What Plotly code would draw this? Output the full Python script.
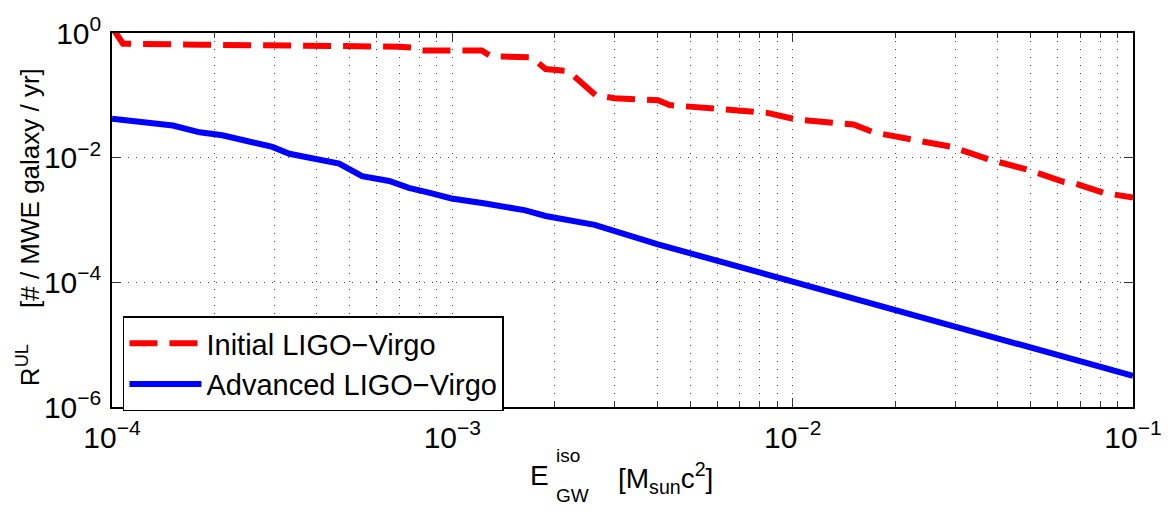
import plotly.graph_objects as go

# ---- data ----
e_initial = [1.0e-4, 1.077e-4, 1.81e-4, 3.55e-4, 5.69e-4, 6.97e-4, 7.60e-4, 7.97e-4,
             1.22e-3, 1.30e-3, 1.71e-3, 1.88e-3, 2.19e-3, 2.64e-3, 3.00e-3, 4.02e-3,
             4.35e-3, 6.02e-3, 7.37e-3, 8.43e-3, 1.03e-2, 1.33e-2, 1.51e-2, 1.73e-2,
             2.24e-2, 2.93e-2, 3.79e-2, 4.86e-2, 6.28e-2, 6.81e-2, 8.17e-2, 1.0e-1]
r_initial = [1.24, 0.673, 0.649, 0.638, 0.627, 0.604, 0.583, 0.523,
             0.523, 0.422, 0.407, 0.264, 0.246, 0.100, 0.0898, 0.0835,
             0.0698, 0.0604, 0.0562, 0.0523, 0.0407, 0.0352, 0.0340, 0.0255,
             0.0198, 0.0149, 0.0093, 0.0065, 0.00407, 0.0038, 0.00274, 0.00229]

e_advanced = [1.0e-4, 1.51e-4, 1.81e-4, 2.11e-4, 2.96e-4, 3.32e-4, 4.65e-4, 5.43e-4,
              6.52e-4, 7.45e-4, 8.53e-4, 9.95e-4, 1.25e-3, 1.64e-3, 1.88e-3, 2.62e-3,
              4.02e-3, 1.18e-2, 1.0e-1]
r_advanced = [0.0422, 0.0328, 0.0255, 0.0229, 0.0149, 0.01155, 0.00806, 0.00505,
              0.00422, 0.00328, 0.00274, 0.00221, 0.00184, 0.00143, 0.00116, 0.000835,
              0.000407, 8.05e-5, 3.16e-6]

series_names = ["Initial LIGO\u2212Virgo", "Advanced LIGO\u2212Virgo"]

x_tickvals = [1e-4, 1e-3, 1e-2, 1e-1]
x_ticktext = ["10<sup>\u22124</sup>", "10<sup>\u22123</sup>", "10<sup>\u22122</sup>", "10<sup>\u22121</sup>"]
x_minor = [m * d for d in (1e-4, 1e-3, 1e-2) for m in range(2, 10)]
y_tickvals = [1e-6, 1e-4, 1e-2, 1e0]
y_ticktext = ["10<sup>\u22126</sup>", "10<sup>\u22124</sup>", "10<sup>\u22122</sup>", "10<sup>0</sup>"]

FONT = "Liberation Sans, Arial, Helvetica, sans-serif"
TICK_SIZE = 30
GRID_DASH = "1px,7px"
GRID_COLOR = "#444"

fig = go.Figure()
fig.add_trace(go.Scatter(x=e_initial, y=r_initial, mode="lines", name=series_names[0],
                         line=dict(color="#ff0000", width=6, dash="28px,12px")))
fig.add_trace(go.Scatter(x=e_advanced, y=r_advanced, mode="lines", name=series_names[1],
                         line=dict(color="#0000ff", width=6)))

axis_common = dict(type="log", showline=True, linecolor="black", linewidth=1.5,
                   mirror="allticks", ticks="inside", ticklen=9, tickcolor="#333",
                   showgrid=True, gridcolor=GRID_COLOR, griddash=GRID_DASH, gridwidth=1,
                   zeroline=False, tickfont=dict(family=FONT, size=TICK_SIZE, color="black"))

fig.update_xaxes(range=[-4, -1], tickvals=x_tickvals, ticktext=x_ticktext, ticklabelstandoff=3,
                 minor=dict(tickvals=x_minor, ticks="inside", ticklen=5, tickcolor="#333",
                            showgrid=True, gridcolor=GRID_COLOR, griddash=GRID_DASH, gridwidth=1),
                 **axis_common)
fig.update_yaxes(range=[-6, 0], tickvals=y_tickvals, ticktext=y_ticktext, ticklabelstandoff=3,
                 **axis_common)

# axis titles as text annotations (stacked super/subscript like the original)
def px_x(px):
    return (px - 112) / 1025.0

def px_y(py):
    return (407 - py) / 384.0

ann = [
    dict(text="E", x=px_x(553), y=px_y(477), xanchor="right", yanchor="middle", font=dict(size=28)),
    dict(text="iso", x=px_x(556), y=px_y(457), xanchor="left", yanchor="middle", font=dict(size=19)),
    dict(text="GW", x=px_x(556), y=px_y(498), xanchor="left", yanchor="middle", font=dict(size=19)),
    dict(text="[M<sub>sun</sub>c<sup>2</sup>]", x=px_x(618), y=px_y(480), xanchor="left",
         yanchor="middle", font=dict(size=28)),
    dict(text="R<sup>UL</sup>\u00a0\u00a0\u00a0\u00a0\u00a0[# / MWE galaxy / yr]", x=px_x(29), y=px_y(222),
         xanchor="center", yanchor="middle", textangle=-90, font=dict(size=26)),
]
for a in ann:
    a.update(xref="paper", yref="paper", showarrow=False)
    a["font"].update(family=FONT, color="black")
fig.update_layout(annotations=ann)

fig.update_layout(
    width=1174, height=512,
    margin=dict(l=112, r=37, t=23, b=105),
    paper_bgcolor="white", plot_bgcolor="white",
    font=dict(family=FONT, color="black"),
    showlegend=True,
    legend=dict(x=px_x(123), y=px_y(314), xanchor="left", yanchor="top",
                bgcolor="white", bordercolor="black", borderwidth=1.5,
                font=dict(family=FONT, size=29, color="black"),
                itemwidth=72, tracegroupgap=0),
)

fig.write_html("out.html")
